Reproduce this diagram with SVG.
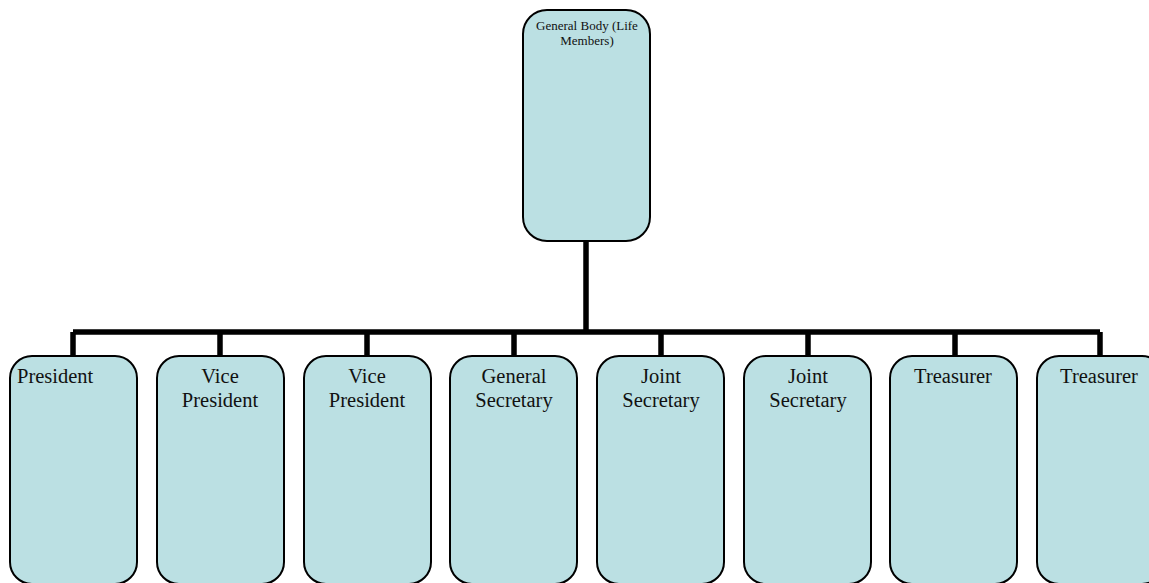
<svg xmlns="http://www.w3.org/2000/svg" width="1149" height="583" viewBox="0 0 1149 583">
<style>
.box{fill:#bbe0e3;stroke:#000;stroke-width:2}
.t{font-family:"Liberation Serif","Times New Roman",serif;font-size:20.5px;fill:#111;text-anchor:middle}
.s{font-family:"Liberation Serif","Times New Roman",serif;font-size:13px;fill:#111;text-anchor:middle}
.c{fill:none;stroke:#000;stroke-width:5.5}
</style>
<rect width="1149" height="583" fill="#fff"/>
<g id="connectors">
<path class="c" d="M586 241V332M73 332H1100M73 332V357M220 332V357M367 332V357M514 332V357M661 332V357M808 332V357M955 332V357M1100 332V357"/>
</g>
<g id="general-body"><rect class="box" x="523" y="10" width="127" height="231" rx="24"/><text class="s" x="587" y="30">General Body (Life</text><text class="s" x="587" y="45">Members)</text></g>
<g id="president"><rect class="box" x="10" y="356" width="127" height="228" rx="22"/><text class="t" x="17" y="383" style="text-anchor:start">President</text></g>
<g id="vp1"><rect class="box" x="157" y="356" width="127" height="228" rx="22"/><text class="t" x="220" y="383">Vice</text><text class="t" x="220" y="407">President</text></g>
<g id="vp2"><rect class="box" x="304" y="356" width="127" height="228" rx="22"/><text class="t" x="367" y="383">Vice</text><text class="t" x="367" y="407">President</text></g>
<g id="gensec"><rect class="box" x="450" y="356" width="127" height="228" rx="22"/><text class="t" x="514" y="383">General</text><text class="t" x="514" y="407">Secretary</text></g>
<g id="js1"><rect class="box" x="597" y="356" width="127" height="228" rx="22"/><text class="t" x="661" y="383">Joint</text><text class="t" x="661" y="407">Secretary</text></g>
<g id="js2"><rect class="box" x="744" y="356" width="127" height="228" rx="22"/><text class="t" x="808" y="383">Joint</text><text class="t" x="808" y="407">Secretary</text></g>
<g id="tr1"><rect class="box" x="890" y="356" width="127" height="228" rx="22"/><text class="t" x="953" y="383">Treasurer</text></g>
<g id="tr2"><rect class="box" x="1037" y="356" width="127" height="228" rx="22"/><text class="t" x="1099" y="383">Treasurer</text></g>
</svg>
